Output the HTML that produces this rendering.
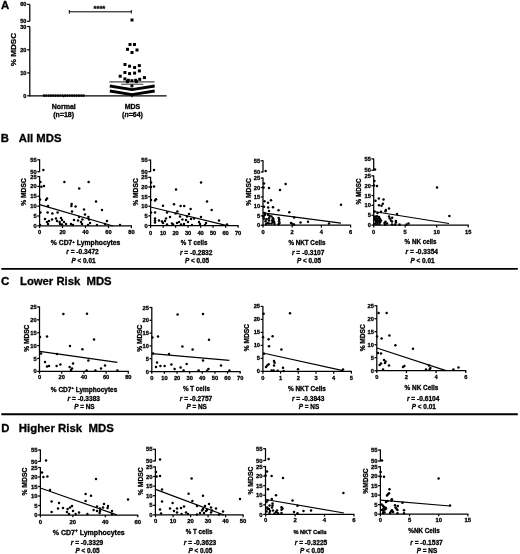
<!DOCTYPE html><html><head><meta charset="utf-8"><title>figure</title><style>html,body{margin:0;padding:0;background:#fff}svg{display:block;will-change:transform}text{stroke:#000;stroke-width:0.3px;stroke-linejoin:round}</style></head><body>
<svg width="520" height="554" viewBox="0 0 520 554" font-family="Liberation Sans, sans-serif" fill="#000">
<rect width="520" height="554" fill="#fff"/>
<text x="1.00" y="9.30" font-size="11.4" text-anchor="start" font-weight="bold" >A</text>
<line x1="29.80" y1="4.40" x2="29.80" y2="21.30" stroke="#000" stroke-width="1.25" />
<line x1="29.80" y1="26.60" x2="29.80" y2="96.30" stroke="#000" stroke-width="1.25" />
<line x1="29.30" y1="95.80" x2="166.60" y2="95.80" stroke="#000" stroke-width="1.25" />
<line x1="27.20" y1="4.40" x2="29.80" y2="4.40" stroke="#000" stroke-width="1.25" />
<text x="26.40" y="6.40" font-size="5.6" text-anchor="end" font-weight="bold" >60</text>
<line x1="27.20" y1="21.30" x2="29.80" y2="21.30" stroke="#000" stroke-width="1.25" />
<text x="26.40" y="23.30" font-size="5.6" text-anchor="end" font-weight="bold" >50</text>
<line x1="27.20" y1="26.50" x2="29.80" y2="26.50" stroke="#000" stroke-width="1.25" />
<text x="26.40" y="28.50" font-size="5.6" text-anchor="end" font-weight="bold" >30</text>
<line x1="27.20" y1="49.80" x2="29.80" y2="49.80" stroke="#000" stroke-width="1.25" />
<text x="26.40" y="51.80" font-size="5.6" text-anchor="end" font-weight="bold" >20</text>
<line x1="27.20" y1="72.90" x2="29.80" y2="72.90" stroke="#000" stroke-width="1.25" />
<text x="26.40" y="74.90" font-size="5.6" text-anchor="end" font-weight="bold" >10</text>
<line x1="27.20" y1="95.80" x2="29.80" y2="95.80" stroke="#000" stroke-width="1.25" />
<text x="26.40" y="97.80" font-size="5.6" text-anchor="end" font-weight="bold" >0</text>
<line x1="63.50" y1="95.80" x2="63.50" y2="97.30" stroke="#000" stroke-width="1.25" />
<line x1="131.90" y1="95.80" x2="131.90" y2="97.30" stroke="#000" stroke-width="1.25" />
<text transform="translate(16.1,49.6) rotate(-90)" font-size="8.1" text-anchor="middle" font-weight="bold">% MDSC</text>
<text x="63.70" y="109.20" font-size="7" text-anchor="middle" font-weight="bold" >Normal</text>
<text x="63.70" y="117.20" font-size="7" text-anchor="middle" font-weight="bold" >(n=18)</text>
<text x="132.50" y="109.20" font-size="7" text-anchor="middle" font-weight="bold" >MDS</text>
<text x="132.50" y="117.20" font-size="7" text-anchor="middle" font-weight="bold" >(<tspan font-style="italic">n</tspan>=64)</text>
<line x1="69.30" y1="11.80" x2="131.30" y2="11.80" stroke="#000" stroke-width="1.0" />
<line x1="69.30" y1="10.00" x2="69.30" y2="13.70" stroke="#000" stroke-width="1.0" />
<line x1="131.30" y1="10.00" x2="131.30" y2="13.50" stroke="#000" stroke-width="1.0" />
<text x="99.40" y="10.60" font-size="7.6" text-anchor="middle" font-weight="bold" >****</text>
<circle cx="44.0" cy="95.6" r="1.3"/>
<circle cx="46.3" cy="95.6" r="1.3"/>
<circle cx="48.7" cy="95.6" r="1.3"/>
<circle cx="51.0" cy="95.6" r="1.3"/>
<circle cx="53.3" cy="95.6" r="1.3"/>
<circle cx="55.6" cy="95.6" r="1.3"/>
<circle cx="58.0" cy="95.6" r="1.3"/>
<circle cx="60.3" cy="95.6" r="1.3"/>
<circle cx="62.6" cy="95.6" r="1.3"/>
<circle cx="65.0" cy="95.6" r="1.3"/>
<circle cx="67.3" cy="95.6" r="1.3"/>
<circle cx="69.6" cy="95.6" r="1.3"/>
<circle cx="72.0" cy="95.6" r="1.3"/>
<circle cx="74.3" cy="95.6" r="1.3"/>
<circle cx="76.6" cy="95.6" r="1.3"/>
<circle cx="79.0" cy="95.6" r="1.3"/>
<circle cx="81.3" cy="95.6" r="1.3"/>
<circle cx="83.6" cy="95.6" r="1.3"/>
<rect x="130.5" y="18.5" width="3.0" height="3.0"/>
<rect x="128.5" y="43.0" width="3.0" height="3.0"/>
<rect x="133.0" y="43.0" width="3.0" height="3.0"/>
<rect x="126.0" y="47.8" width="3.0" height="3.0"/>
<rect x="135.5" y="48.5" width="3.0" height="3.0"/>
<rect x="130.5" y="51.0" width="3.0" height="3.0"/>
<rect x="123.5" y="63.0" width="3.0" height="3.0"/>
<rect x="128.1" y="64.7" width="3.0" height="3.0"/>
<rect x="133.1" y="66.0" width="3.0" height="3.0"/>
<rect x="137.8" y="64.1" width="3.0" height="3.0"/>
<rect x="123.4" y="71.0" width="3.0" height="3.0"/>
<rect x="128.1" y="72.1" width="3.0" height="3.0"/>
<rect x="133.1" y="71.6" width="3.0" height="3.0"/>
<rect x="137.9" y="69.4" width="3.0" height="3.0"/>
<rect x="118.7" y="74.7" width="3.0" height="3.0"/>
<rect x="142.9" y="76.1" width="3.0" height="3.0"/>
<rect x="123.4" y="77.4" width="3.0" height="3.0"/>
<rect x="126.8" y="78.8" width="3.0" height="3.0"/>
<rect x="130.4" y="79.2" width="3.0" height="3.0"/>
<rect x="134.2" y="78.8" width="3.0" height="3.0"/>
<rect x="138.2" y="77.8" width="3.0" height="3.0"/>
<rect x="130.4" y="84.4" width="3.0" height="3.0"/>
<rect x="125.9" y="80.1" width="3.0" height="3.0"/>
<rect x="134.9" y="80.1" width="3.0" height="3.0"/>
<line x1="109.40" y1="81.90" x2="154.60" y2="81.90" stroke="#000" stroke-width="0.9" />
<line x1="121.20" y1="84.20" x2="143.30" y2="84.20" stroke="#000" stroke-width="0.8" />
<polyline points="109.8,86.0 132,89.7 154.7,86.0" fill="none" stroke="#000" stroke-width="2.8"/>
<polyline points="109.8,91.0 132,94.6 154.7,91.0" fill="none" stroke="#000" stroke-width="2.8"/>
<text x="0.80" y="142.20" font-size="11.3" text-anchor="start" font-weight="bold" >B</text>
<text x="18.80" y="142.20" font-size="11.3" text-anchor="start" font-weight="bold" >All MDS</text>
<text x="1.00" y="285.10" font-size="11.6" text-anchor="start" font-weight="bold" >C</text>
<text x="20.00" y="285.20" font-size="11.3" text-anchor="start" font-weight="bold" xml:space="preserve">Lower Risk&#160; MDS</text>
<text x="1.20" y="431.60" font-size="11.3" text-anchor="start" font-weight="bold" >D</text>
<text x="18.80" y="431.60" font-size="11.4" text-anchor="start" font-weight="bold" xml:space="preserve">Higher Risk&#160; MDS</text>
<line x1="1.30" y1="268.90" x2="517.80" y2="268.90" stroke="#000" stroke-width="1.9" />
<line x1="1.30" y1="414.20" x2="517.80" y2="414.20" stroke="#000" stroke-width="1.9" />
<line x1="39.60" y1="159.30" x2="39.60" y2="172.20" stroke="#000" stroke-width="1.25" />
<line x1="39.60" y1="176.10" x2="39.60" y2="226.30" stroke="#000" stroke-width="1.25" />
<line x1="37.30" y1="159.80" x2="39.60" y2="159.80" stroke="#000" stroke-width="1.25" />
<text x="36.70" y="161.85" font-size="5.7" text-anchor="end" font-weight="bold" >55</text>
<line x1="37.30" y1="171.70" x2="39.60" y2="171.70" stroke="#000" stroke-width="1.25" />
<text x="36.70" y="173.75" font-size="5.7" text-anchor="end" font-weight="bold" >50</text>
<line x1="37.30" y1="176.55" x2="39.60" y2="176.55" stroke="#000" stroke-width="1.25" />
<text x="36.70" y="178.60" font-size="5.7" text-anchor="end" font-weight="bold" >25</text>
<line x1="37.30" y1="186.40" x2="39.60" y2="186.40" stroke="#000" stroke-width="1.25" />
<text x="36.70" y="188.45" font-size="5.7" text-anchor="end" font-weight="bold" >20</text>
<line x1="37.30" y1="196.25" x2="39.60" y2="196.25" stroke="#000" stroke-width="1.25" />
<text x="36.70" y="198.30" font-size="5.7" text-anchor="end" font-weight="bold" >15</text>
<line x1="37.30" y1="206.10" x2="39.60" y2="206.10" stroke="#000" stroke-width="1.25" />
<text x="36.70" y="208.15" font-size="5.7" text-anchor="end" font-weight="bold" >10</text>
<line x1="37.30" y1="215.95" x2="39.60" y2="215.95" stroke="#000" stroke-width="1.25" />
<text x="36.70" y="218.00" font-size="5.7" text-anchor="end" font-weight="bold" >5</text>
<line x1="37.30" y1="225.80" x2="39.60" y2="225.80" stroke="#000" stroke-width="1.25" />
<text x="36.70" y="227.85" font-size="5.7" text-anchor="end" font-weight="bold" >0</text>
<line x1="39.10" y1="225.80" x2="131.90" y2="225.80" stroke="#000" stroke-width="1.25" />
<line x1="39.60" y1="225.80" x2="39.60" y2="228.10" stroke="#000" stroke-width="1.25" />
<text x="39.60" y="234.20" font-size="5.7" text-anchor="middle" font-weight="bold" >0</text>
<line x1="62.55" y1="225.80" x2="62.55" y2="228.10" stroke="#000" stroke-width="1.25" />
<text x="62.55" y="234.20" font-size="5.7" text-anchor="middle" font-weight="bold" >20</text>
<line x1="85.50" y1="225.80" x2="85.50" y2="228.10" stroke="#000" stroke-width="1.25" />
<text x="85.50" y="234.20" font-size="5.7" text-anchor="middle" font-weight="bold" >40</text>
<line x1="108.45" y1="225.80" x2="108.45" y2="228.10" stroke="#000" stroke-width="1.25" />
<text x="108.45" y="234.20" font-size="5.7" text-anchor="middle" font-weight="bold" >60</text>
<line x1="131.40" y1="225.80" x2="131.40" y2="228.10" stroke="#000" stroke-width="1.25" />
<text x="131.40" y="234.20" font-size="5.7" text-anchor="middle" font-weight="bold" >80</text>
<text transform="translate(26.4,192) rotate(-90)" font-size="6.7" text-anchor="middle" font-weight="bold">% MDSC</text>
<text x="85.60" y="245.30" font-size="6.4" text-anchor="middle" font-weight="bold" textLength="69.5" lengthAdjust="spacingAndGlyphs">% CD7<tspan font-size="4.2" dy="-2.8">+</tspan><tspan dy="2.8"> Lymphocytes</tspan></text>
<text x="82.50" y="254.10" font-size="6.6" text-anchor="middle" font-weight="bold" ><tspan font-style="italic">r</tspan> = -0.3472</text>
<text x="83.50" y="263.00" font-size="6.4" text-anchor="middle" font-weight="bold" ><tspan font-style="italic">P</tspan> &lt; 0.01</text>
<line x1="39.60" y1="204.60" x2="113.00" y2="226.00" stroke="#000" stroke-width="1.2" />
<circle cx="43.4" cy="170.0" r="1.25"/>
<circle cx="40.4" cy="182.0" r="1.25"/>
<circle cx="64.4" cy="182.0" r="1.25"/>
<circle cx="88.6" cy="182.0" r="1.25"/>
<circle cx="44.0" cy="186.0" r="1.25"/>
<circle cx="41.4" cy="186.8" r="1.25"/>
<circle cx="79.2" cy="188.6" r="1.25"/>
<circle cx="47.0" cy="198.6" r="1.25"/>
<circle cx="46.0" cy="200.0" r="1.25"/>
<circle cx="40.0" cy="199.5" r="1.25"/>
<circle cx="96.0" cy="201.5" r="1.25"/>
<circle cx="71.6" cy="204.0" r="1.25"/>
<circle cx="71.4" cy="206.0" r="1.25"/>
<circle cx="75.6" cy="206.6" r="1.25"/>
<circle cx="48.0" cy="206.0" r="1.25"/>
<circle cx="84.0" cy="209.4" r="1.25"/>
<circle cx="102.0" cy="210.0" r="1.25"/>
<circle cx="72.0" cy="211.4" r="1.25"/>
<circle cx="40.4" cy="212.4" r="1.25"/>
<circle cx="47.6" cy="212.4" r="1.25"/>
<circle cx="52.4" cy="213.4" r="1.25"/>
<circle cx="57.6" cy="212.6" r="1.25"/>
<circle cx="85.0" cy="214.4" r="1.25"/>
<circle cx="88.4" cy="217.0" r="1.25"/>
<circle cx="79.0" cy="217.0" r="1.25"/>
<circle cx="45.0" cy="219.0" r="1.25"/>
<circle cx="52.0" cy="219.4" r="1.25"/>
<circle cx="56.0" cy="218.6" r="1.25"/>
<circle cx="61.0" cy="218.0" r="1.25"/>
<circle cx="62.0" cy="220.0" r="1.25"/>
<circle cx="74.0" cy="220.0" r="1.25"/>
<circle cx="78.0" cy="220.6" r="1.25"/>
<circle cx="82.4" cy="219.4" r="1.25"/>
<circle cx="89.0" cy="219.4" r="1.25"/>
<circle cx="47.0" cy="222.0" r="1.25"/>
<circle cx="49.0" cy="221.0" r="1.25"/>
<circle cx="57.0" cy="221.0" r="1.25"/>
<circle cx="59.6" cy="222.0" r="1.25"/>
<circle cx="64.0" cy="222.0" r="1.25"/>
<circle cx="81.0" cy="222.0" r="1.25"/>
<circle cx="90.0" cy="223.0" r="1.25"/>
<circle cx="107.0" cy="221.0" r="1.25"/>
<circle cx="48.0" cy="224.0" r="1.25"/>
<circle cx="60.0" cy="224.0" r="1.25"/>
<circle cx="62.0" cy="224.6" r="1.25"/>
<circle cx="66.0" cy="224.0" r="1.25"/>
<circle cx="71.0" cy="224.0" r="1.25"/>
<circle cx="73.0" cy="225.0" r="1.25"/>
<circle cx="82.0" cy="224.0" r="1.25"/>
<circle cx="88.0" cy="225.0" r="1.25"/>
<circle cx="97.0" cy="225.0" r="1.25"/>
<circle cx="105.0" cy="224.0" r="1.25"/>
<circle cx="120.0" cy="225.0" r="1.25"/>
<circle cx="40.0" cy="225.0" r="1.25"/>
<line x1="150.60" y1="159.60" x2="150.60" y2="172.10" stroke="#000" stroke-width="1.25" />
<line x1="150.60" y1="176.80" x2="150.60" y2="226.00" stroke="#000" stroke-width="1.25" />
<line x1="148.30" y1="160.10" x2="150.60" y2="160.10" stroke="#000" stroke-width="1.25" />
<text x="147.70" y="162.15" font-size="5.7" text-anchor="end" font-weight="bold" >55</text>
<line x1="148.30" y1="171.60" x2="150.60" y2="171.60" stroke="#000" stroke-width="1.25" />
<text x="147.70" y="173.65" font-size="5.7" text-anchor="end" font-weight="bold" >50</text>
<line x1="148.30" y1="177.38" x2="150.60" y2="177.38" stroke="#000" stroke-width="1.25" />
<text x="147.70" y="179.43" font-size="5.7" text-anchor="end" font-weight="bold" >25</text>
<line x1="148.30" y1="187.00" x2="150.60" y2="187.00" stroke="#000" stroke-width="1.25" />
<text x="147.70" y="189.05" font-size="5.7" text-anchor="end" font-weight="bold" >20</text>
<line x1="148.30" y1="196.62" x2="150.60" y2="196.62" stroke="#000" stroke-width="1.25" />
<text x="147.70" y="198.68" font-size="5.7" text-anchor="end" font-weight="bold" >15</text>
<line x1="148.30" y1="206.25" x2="150.60" y2="206.25" stroke="#000" stroke-width="1.25" />
<text x="147.70" y="208.30" font-size="5.7" text-anchor="end" font-weight="bold" >10</text>
<line x1="148.30" y1="215.88" x2="150.60" y2="215.88" stroke="#000" stroke-width="1.25" />
<text x="147.70" y="217.93" font-size="5.7" text-anchor="end" font-weight="bold" >5</text>
<line x1="148.30" y1="225.50" x2="150.60" y2="225.50" stroke="#000" stroke-width="1.25" />
<text x="147.70" y="227.55" font-size="5.7" text-anchor="end" font-weight="bold" >0</text>
<line x1="150.10" y1="225.50" x2="238.60" y2="225.50" stroke="#000" stroke-width="1.25" />
<line x1="150.60" y1="225.50" x2="150.60" y2="227.80" stroke="#000" stroke-width="1.25" />
<text x="150.60" y="234.50" font-size="5.7" text-anchor="middle" font-weight="bold" >0</text>
<line x1="163.10" y1="225.50" x2="163.10" y2="227.80" stroke="#000" stroke-width="1.25" />
<text x="163.10" y="234.50" font-size="5.7" text-anchor="middle" font-weight="bold" >10</text>
<line x1="175.60" y1="225.50" x2="175.60" y2="227.80" stroke="#000" stroke-width="1.25" />
<text x="175.60" y="234.50" font-size="5.7" text-anchor="middle" font-weight="bold" >20</text>
<line x1="188.10" y1="225.50" x2="188.10" y2="227.80" stroke="#000" stroke-width="1.25" />
<text x="188.10" y="234.50" font-size="5.7" text-anchor="middle" font-weight="bold" >30</text>
<line x1="200.60" y1="225.50" x2="200.60" y2="227.80" stroke="#000" stroke-width="1.25" />
<text x="200.60" y="234.50" font-size="5.7" text-anchor="middle" font-weight="bold" >40</text>
<line x1="213.10" y1="225.50" x2="213.10" y2="227.80" stroke="#000" stroke-width="1.25" />
<text x="213.10" y="234.50" font-size="5.7" text-anchor="middle" font-weight="bold" >50</text>
<line x1="225.60" y1="225.50" x2="225.60" y2="227.80" stroke="#000" stroke-width="1.25" />
<text x="225.60" y="234.50" font-size="5.7" text-anchor="middle" font-weight="bold" >60</text>
<line x1="238.10" y1="225.50" x2="238.10" y2="227.80" stroke="#000" stroke-width="1.25" />
<text x="238.10" y="234.50" font-size="5.7" text-anchor="middle" font-weight="bold" >70</text>
<text transform="translate(138.4,192) rotate(-90)" font-size="6.7" text-anchor="middle" font-weight="bold">% MDSC</text>
<text x="194.10" y="244.50" font-size="6.3" text-anchor="middle" font-weight="bold" textLength="26.5" lengthAdjust="spacingAndGlyphs">% T cells</text>
<text x="196.20" y="255.30" font-size="6.6" text-anchor="middle" font-weight="bold" ><tspan font-style="italic">r</tspan> = -0.2832</text>
<text x="197.00" y="262.70" font-size="6.4" text-anchor="middle" font-weight="bold" ><tspan font-style="italic">P</tspan> &lt; 0.05</text>
<line x1="150.60" y1="207.00" x2="226.00" y2="225.40" stroke="#000" stroke-width="1.2" />
<circle cx="154.0" cy="170.0" r="1.25"/>
<circle cx="151.0" cy="182.6" r="1.25"/>
<circle cx="154.0" cy="186.6" r="1.25"/>
<circle cx="151.0" cy="187.0" r="1.25"/>
<circle cx="201.0" cy="182.6" r="1.25"/>
<circle cx="176.0" cy="189.4" r="1.25"/>
<circle cx="156.0" cy="199.2" r="1.25"/>
<circle cx="155.0" cy="200.5" r="1.25"/>
<circle cx="151.0" cy="200.0" r="1.25"/>
<circle cx="207.0" cy="201.6" r="1.25"/>
<circle cx="174.0" cy="204.2" r="1.25"/>
<circle cx="163.0" cy="205.7" r="1.25"/>
<circle cx="180.6" cy="206.0" r="1.25"/>
<circle cx="184.2" cy="206.0" r="1.25"/>
<circle cx="190.6" cy="209.0" r="1.25"/>
<circle cx="211.6" cy="210.0" r="1.25"/>
<circle cx="177.4" cy="211.4" r="1.25"/>
<circle cx="151.0" cy="212.4" r="1.25"/>
<circle cx="155.0" cy="212.4" r="1.25"/>
<circle cx="167.0" cy="212.6" r="1.25"/>
<circle cx="175.6" cy="213.4" r="1.25"/>
<circle cx="189.0" cy="214.0" r="1.25"/>
<circle cx="180.0" cy="216.6" r="1.25"/>
<circle cx="170.0" cy="217.0" r="1.25"/>
<circle cx="201.0" cy="217.0" r="1.25"/>
<circle cx="187.0" cy="216.6" r="1.25"/>
<circle cx="155.0" cy="218.6" r="1.25"/>
<circle cx="166.0" cy="218.6" r="1.25"/>
<circle cx="194.0" cy="218.6" r="1.25"/>
<circle cx="191.0" cy="219.0" r="1.25"/>
<circle cx="182.4" cy="219.4" r="1.25"/>
<circle cx="186.0" cy="220.0" r="1.25"/>
<circle cx="155.0" cy="220.6" r="1.25"/>
<circle cx="159.0" cy="220.6" r="1.25"/>
<circle cx="162.0" cy="221.4" r="1.25"/>
<circle cx="165.0" cy="221.0" r="1.25"/>
<circle cx="219.0" cy="220.6" r="1.25"/>
<circle cx="179.0" cy="222.0" r="1.25"/>
<circle cx="188.0" cy="222.0" r="1.25"/>
<circle cx="199.0" cy="222.0" r="1.25"/>
<circle cx="155.0" cy="222.6" r="1.25"/>
<circle cx="163.0" cy="223.0" r="1.25"/>
<circle cx="172.0" cy="223.4" r="1.25"/>
<circle cx="177.0" cy="223.0" r="1.25"/>
<circle cx="206.0" cy="223.0" r="1.25"/>
<circle cx="184.0" cy="224.0" r="1.25"/>
<circle cx="200.0" cy="224.0" r="1.25"/>
<circle cx="167.0" cy="224.6" r="1.25"/>
<circle cx="173.0" cy="224.6" r="1.25"/>
<circle cx="181.0" cy="224.6" r="1.25"/>
<circle cx="192.0" cy="225.0" r="1.25"/>
<circle cx="227.0" cy="224.6" r="1.25"/>
<circle cx="205.0" cy="225.0" r="1.25"/>
<line x1="263.00" y1="160.20" x2="263.00" y2="172.50" stroke="#000" stroke-width="1.25" />
<line x1="263.00" y1="177.50" x2="263.00" y2="225.70" stroke="#000" stroke-width="1.25" />
<line x1="260.70" y1="160.70" x2="263.00" y2="160.70" stroke="#000" stroke-width="1.25" />
<text x="260.10" y="162.75" font-size="5.7" text-anchor="end" font-weight="bold" >55</text>
<line x1="260.70" y1="172.00" x2="263.00" y2="172.00" stroke="#000" stroke-width="1.25" />
<text x="260.10" y="174.05" font-size="5.7" text-anchor="end" font-weight="bold" >50</text>
<line x1="260.70" y1="178.05" x2="263.00" y2="178.05" stroke="#000" stroke-width="1.25" />
<text x="260.10" y="180.10" font-size="5.7" text-anchor="end" font-weight="bold" >25</text>
<line x1="260.70" y1="187.50" x2="263.00" y2="187.50" stroke="#000" stroke-width="1.25" />
<text x="260.10" y="189.55" font-size="5.7" text-anchor="end" font-weight="bold" >20</text>
<line x1="260.70" y1="196.95" x2="263.00" y2="196.95" stroke="#000" stroke-width="1.25" />
<text x="260.10" y="199.00" font-size="5.7" text-anchor="end" font-weight="bold" >15</text>
<line x1="260.70" y1="206.40" x2="263.00" y2="206.40" stroke="#000" stroke-width="1.25" />
<text x="260.10" y="208.45" font-size="5.7" text-anchor="end" font-weight="bold" >10</text>
<line x1="260.70" y1="215.85" x2="263.00" y2="215.85" stroke="#000" stroke-width="1.25" />
<text x="260.10" y="217.90" font-size="5.7" text-anchor="end" font-weight="bold" >5</text>
<line x1="260.70" y1="225.30" x2="263.00" y2="225.30" stroke="#000" stroke-width="1.25" />
<text x="260.10" y="227.35" font-size="5.7" text-anchor="end" font-weight="bold" >0</text>
<line x1="262.50" y1="225.20" x2="351.10" y2="225.20" stroke="#000" stroke-width="1.25" />
<line x1="263.00" y1="225.20" x2="263.00" y2="227.50" stroke="#000" stroke-width="1.25" />
<text x="263.00" y="233.80" font-size="5.7" text-anchor="middle" font-weight="bold" >0</text>
<line x1="292.20" y1="225.20" x2="292.20" y2="227.50" stroke="#000" stroke-width="1.25" />
<text x="292.20" y="233.80" font-size="5.7" text-anchor="middle" font-weight="bold" >2</text>
<line x1="321.40" y1="225.20" x2="321.40" y2="227.50" stroke="#000" stroke-width="1.25" />
<text x="321.40" y="233.80" font-size="5.7" text-anchor="middle" font-weight="bold" >4</text>
<line x1="350.60" y1="225.20" x2="350.60" y2="227.50" stroke="#000" stroke-width="1.25" />
<text x="350.60" y="233.80" font-size="5.7" text-anchor="middle" font-weight="bold" >6</text>
<text transform="translate(251,192) rotate(-90)" font-size="6.7" text-anchor="middle" font-weight="bold">% MDSC</text>
<text x="306.90" y="244.50" font-size="6.3" text-anchor="middle" font-weight="bold" textLength="37" lengthAdjust="spacingAndGlyphs">% NKT Cells</text>
<text x="308.20" y="255.30" font-size="6.6" text-anchor="middle" font-weight="bold" ><tspan font-style="italic">r</tspan> = -0.3107</text>
<text x="309.00" y="262.70" font-size="6.4" text-anchor="middle" font-weight="bold" ><tspan font-style="italic">P</tspan> &lt; 0.05</text>
<line x1="263.00" y1="212.90" x2="341.00" y2="223.10" stroke="#000" stroke-width="1.2" />
<circle cx="265.6" cy="171.1" r="1.25"/>
<circle cx="264.0" cy="183.5" r="1.25"/>
<circle cx="285.6" cy="183.9" r="1.25"/>
<circle cx="263.6" cy="187.5" r="1.25"/>
<circle cx="269.0" cy="188.1" r="1.25"/>
<circle cx="280.0" cy="190.1" r="1.25"/>
<circle cx="271.0" cy="200.3" r="1.25"/>
<circle cx="264.5" cy="201.3" r="1.25"/>
<circle cx="268.0" cy="202.7" r="1.25"/>
<circle cx="341.0" cy="204.8" r="1.25"/>
<circle cx="273.0" cy="207.3" r="1.25"/>
<circle cx="268.2" cy="207.5" r="1.25"/>
<circle cx="264.0" cy="206.8" r="1.25"/>
<circle cx="278.5" cy="210.2" r="1.25"/>
<circle cx="269.0" cy="211.0" r="1.25"/>
<circle cx="289.3" cy="212.2" r="1.25"/>
<circle cx="264.5" cy="213.0" r="1.25"/>
<circle cx="265.0" cy="214.8" r="1.25"/>
<circle cx="268.0" cy="214.8" r="1.25"/>
<circle cx="269.6" cy="216.0" r="1.25"/>
<circle cx="269.0" cy="218.2" r="1.25"/>
<circle cx="266.5" cy="219.2" r="1.25"/>
<circle cx="264.0" cy="218.5" r="1.25"/>
<circle cx="263.5" cy="216.3" r="1.25"/>
<circle cx="271.5" cy="216.5" r="1.25"/>
<circle cx="273.0" cy="218.2" r="1.25"/>
<circle cx="273.5" cy="220.0" r="1.25"/>
<circle cx="278.7" cy="218.0" r="1.25"/>
<circle cx="279.2" cy="219.5" r="1.25"/>
<circle cx="279.0" cy="221.2" r="1.25"/>
<circle cx="279.5" cy="223.0" r="1.25"/>
<circle cx="278.5" cy="224.2" r="1.25"/>
<circle cx="265.5" cy="221.2" r="1.25"/>
<circle cx="267.5" cy="223.0" r="1.25"/>
<circle cx="266.0" cy="224.0" r="1.25"/>
<circle cx="269.0" cy="220.5" r="1.25"/>
<circle cx="272.0" cy="220.5" r="1.25"/>
<circle cx="273.0" cy="222.0" r="1.25"/>
<circle cx="271.5" cy="223.5" r="1.25"/>
<circle cx="269.0" cy="223.5" r="1.25"/>
<circle cx="274.2" cy="222.0" r="1.25"/>
<circle cx="274.5" cy="224.0" r="1.25"/>
<circle cx="291.0" cy="223.0" r="1.25"/>
<circle cx="292.5" cy="224.0" r="1.25"/>
<circle cx="294.0" cy="224.5" r="1.25"/>
<circle cx="294.2" cy="217.5" r="1.25"/>
<circle cx="300.5" cy="222.5" r="1.25"/>
<circle cx="308.0" cy="221.8" r="1.25"/>
<circle cx="329.0" cy="223.6" r="1.25"/>
<line x1="373.70" y1="158.40" x2="373.70" y2="170.80" stroke="#000" stroke-width="1.25" />
<line x1="373.70" y1="175.40" x2="373.70" y2="225.60" stroke="#000" stroke-width="1.25" />
<line x1="371.40" y1="158.90" x2="373.70" y2="158.90" stroke="#000" stroke-width="1.25" />
<text x="370.80" y="160.95" font-size="5.7" text-anchor="end" font-weight="bold" >55</text>
<line x1="371.40" y1="170.30" x2="373.70" y2="170.30" stroke="#000" stroke-width="1.25" />
<text x="370.80" y="172.35" font-size="5.7" text-anchor="end" font-weight="bold" >50</text>
<line x1="371.40" y1="175.85" x2="373.70" y2="175.85" stroke="#000" stroke-width="1.25" />
<text x="370.80" y="177.90" font-size="5.7" text-anchor="end" font-weight="bold" >25</text>
<line x1="371.40" y1="185.70" x2="373.70" y2="185.70" stroke="#000" stroke-width="1.25" />
<text x="370.80" y="187.75" font-size="5.7" text-anchor="end" font-weight="bold" >20</text>
<line x1="371.40" y1="195.55" x2="373.70" y2="195.55" stroke="#000" stroke-width="1.25" />
<text x="370.80" y="197.60" font-size="5.7" text-anchor="end" font-weight="bold" >15</text>
<line x1="371.40" y1="205.40" x2="373.70" y2="205.40" stroke="#000" stroke-width="1.25" />
<text x="370.80" y="207.45" font-size="5.7" text-anchor="end" font-weight="bold" >10</text>
<line x1="371.40" y1="215.25" x2="373.70" y2="215.25" stroke="#000" stroke-width="1.25" />
<text x="370.80" y="217.30" font-size="5.7" text-anchor="end" font-weight="bold" >5</text>
<line x1="371.40" y1="225.10" x2="373.70" y2="225.10" stroke="#000" stroke-width="1.25" />
<text x="370.80" y="227.15" font-size="5.7" text-anchor="end" font-weight="bold" >0</text>
<line x1="373.20" y1="225.10" x2="468.70" y2="225.10" stroke="#000" stroke-width="1.25" />
<line x1="373.70" y1="225.10" x2="373.70" y2="227.40" stroke="#000" stroke-width="1.25" />
<text x="373.70" y="233.80" font-size="5.7" text-anchor="middle" font-weight="bold" >0</text>
<line x1="405.20" y1="225.10" x2="405.20" y2="227.40" stroke="#000" stroke-width="1.25" />
<text x="405.20" y="233.80" font-size="5.7" text-anchor="middle" font-weight="bold" >5</text>
<line x1="436.70" y1="225.10" x2="436.70" y2="227.40" stroke="#000" stroke-width="1.25" />
<text x="436.70" y="233.80" font-size="5.7" text-anchor="middle" font-weight="bold" >10</text>
<line x1="468.20" y1="225.10" x2="468.20" y2="227.40" stroke="#000" stroke-width="1.25" />
<text x="468.20" y="233.80" font-size="5.7" text-anchor="middle" font-weight="bold" >15</text>
<text transform="translate(360.9,191.5) rotate(-90)" font-size="6.3" text-anchor="middle" font-weight="bold">% MDSC</text>
<text x="420.60" y="243.50" font-size="6.3" text-anchor="middle" font-weight="bold" textLength="32" lengthAdjust="spacingAndGlyphs">% NK cells</text>
<text x="421.80" y="254.10" font-size="6.6" text-anchor="middle" font-weight="bold" ><tspan font-style="italic">r</tspan> = -0.3354</text>
<text x="422.50" y="263.40" font-size="6.4" text-anchor="middle" font-weight="bold" ><tspan font-style="italic">P</tspan> &lt; 0.01</text>
<line x1="373.70" y1="211.50" x2="449.00" y2="223.50" stroke="#000" stroke-width="1.2" />
<circle cx="375.0" cy="169.4" r="1.25"/>
<circle cx="374.4" cy="181.0" r="1.25"/>
<circle cx="377.0" cy="186.0" r="1.25"/>
<circle cx="374.0" cy="185.6" r="1.25"/>
<circle cx="437.0" cy="187.6" r="1.25"/>
<circle cx="378.8" cy="198.5" r="1.25"/>
<circle cx="383.5" cy="199.5" r="1.25"/>
<circle cx="375.5" cy="200.8" r="1.25"/>
<circle cx="382.8" cy="203.8" r="1.25"/>
<circle cx="379.0" cy="205.3" r="1.25"/>
<circle cx="381.5" cy="205.8" r="1.25"/>
<circle cx="389.0" cy="208.5" r="1.25"/>
<circle cx="385.8" cy="210.0" r="1.25"/>
<circle cx="385.5" cy="211.2" r="1.25"/>
<circle cx="381.0" cy="211.8" r="1.25"/>
<circle cx="377.5" cy="213.0" r="1.25"/>
<circle cx="374.5" cy="211.5" r="1.25"/>
<circle cx="397.0" cy="214.0" r="1.25"/>
<circle cx="449.4" cy="216.0" r="1.25"/>
<circle cx="389.0" cy="216.5" r="1.25"/>
<circle cx="389.8" cy="218.5" r="1.25"/>
<circle cx="392.2" cy="217.8" r="1.25"/>
<circle cx="391.0" cy="220.5" r="1.25"/>
<circle cx="392.0" cy="221.5" r="1.25"/>
<circle cx="395.8" cy="221.0" r="1.25"/>
<circle cx="396.0" cy="222.5" r="1.25"/>
<circle cx="385.5" cy="221.8" r="1.25"/>
<circle cx="384.5" cy="223.0" r="1.25"/>
<circle cx="387.0" cy="223.5" r="1.25"/>
<circle cx="385.0" cy="224.5" r="1.25"/>
<circle cx="392.0" cy="224.5" r="1.25"/>
<circle cx="395.0" cy="224.5" r="1.25"/>
<circle cx="399.5" cy="224.5" r="1.25"/>
<circle cx="408.5" cy="223.5" r="1.25"/>
<circle cx="406.5" cy="224.6" r="1.25"/>
<circle cx="375.0" cy="216.5" r="1.25"/>
<circle cx="377.0" cy="216.2" r="1.25"/>
<circle cx="379.0" cy="217.0" r="1.25"/>
<circle cx="376.0" cy="218.2" r="1.25"/>
<circle cx="378.0" cy="218.5" r="1.25"/>
<circle cx="380.0" cy="218.8" r="1.25"/>
<circle cx="375.0" cy="220.0" r="1.25"/>
<circle cx="377.0" cy="220.2" r="1.25"/>
<circle cx="379.2" cy="220.5" r="1.25"/>
<circle cx="376.0" cy="222.0" r="1.25"/>
<circle cx="378.0" cy="222.2" r="1.25"/>
<circle cx="380.2" cy="222.0" r="1.25"/>
<circle cx="375.0" cy="223.8" r="1.25"/>
<circle cx="377.2" cy="224.0" r="1.25"/>
<circle cx="379.5" cy="224.0" r="1.25"/>
<circle cx="381.0" cy="220.5" r="1.25"/>
<circle cx="374.5" cy="218.5" r="1.25"/>
<line x1="39.50" y1="306.40" x2="39.50" y2="371.90" stroke="#000" stroke-width="1.25" />
<line x1="37.20" y1="306.90" x2="39.50" y2="306.90" stroke="#000" stroke-width="1.25" />
<text x="36.60" y="308.95" font-size="5.7" text-anchor="end" font-weight="bold" >25</text>
<line x1="37.20" y1="319.80" x2="39.50" y2="319.80" stroke="#000" stroke-width="1.25" />
<text x="36.60" y="321.85" font-size="5.7" text-anchor="end" font-weight="bold" >20</text>
<line x1="37.20" y1="332.70" x2="39.50" y2="332.70" stroke="#000" stroke-width="1.25" />
<text x="36.60" y="334.75" font-size="5.7" text-anchor="end" font-weight="bold" >15</text>
<line x1="37.20" y1="345.60" x2="39.50" y2="345.60" stroke="#000" stroke-width="1.25" />
<text x="36.60" y="347.65" font-size="5.7" text-anchor="end" font-weight="bold" >10</text>
<line x1="37.20" y1="358.50" x2="39.50" y2="358.50" stroke="#000" stroke-width="1.25" />
<text x="36.60" y="360.55" font-size="5.7" text-anchor="end" font-weight="bold" >5</text>
<line x1="37.20" y1="371.40" x2="39.50" y2="371.40" stroke="#000" stroke-width="1.25" />
<text x="36.60" y="373.45" font-size="5.7" text-anchor="end" font-weight="bold" >0</text>
<line x1="39.00" y1="371.40" x2="128.80" y2="371.40" stroke="#000" stroke-width="1.25" />
<line x1="39.50" y1="371.40" x2="39.50" y2="373.70" stroke="#000" stroke-width="1.25" />
<text x="39.50" y="379.40" font-size="5.7" text-anchor="middle" font-weight="bold" >0</text>
<line x1="61.70" y1="371.40" x2="61.70" y2="373.70" stroke="#000" stroke-width="1.25" />
<text x="61.70" y="379.40" font-size="5.7" text-anchor="middle" font-weight="bold" >20</text>
<line x1="83.90" y1="371.40" x2="83.90" y2="373.70" stroke="#000" stroke-width="1.25" />
<text x="83.90" y="379.40" font-size="5.7" text-anchor="middle" font-weight="bold" >40</text>
<line x1="106.10" y1="371.40" x2="106.10" y2="373.70" stroke="#000" stroke-width="1.25" />
<text x="106.10" y="379.40" font-size="5.7" text-anchor="middle" font-weight="bold" >60</text>
<line x1="128.30" y1="371.40" x2="128.30" y2="373.70" stroke="#000" stroke-width="1.25" />
<text x="128.30" y="379.40" font-size="5.7" text-anchor="middle" font-weight="bold" >80</text>
<text transform="translate(28.5,338.2) rotate(-90)" font-size="6.6" text-anchor="middle" font-weight="bold">% MDSC</text>
<text x="84.10" y="391.50" font-size="6.4" text-anchor="middle" font-weight="bold" textLength="66.5" lengthAdjust="spacingAndGlyphs">% CD7<tspan font-size="4.2" dy="-2.8">+</tspan><tspan dy="2.8"> Lymphocytes</tspan></text>
<text x="83.80" y="400.60" font-size="6.6" text-anchor="middle" font-weight="bold" ><tspan font-style="italic">r</tspan> = -0.3383</text>
<text x="84.40" y="409.20" font-size="6.4" text-anchor="middle" font-weight="bold" ><tspan font-style="italic">P</tspan> = NS</text>
<line x1="39.60" y1="351.40" x2="117.40" y2="362.40" stroke="#000" stroke-width="1.2" />
<circle cx="63.4" cy="314.0" r="1.25"/>
<circle cx="87.0" cy="313.8" r="1.25"/>
<circle cx="40.0" cy="337.0" r="1.25"/>
<circle cx="47.0" cy="336.4" r="1.25"/>
<circle cx="94.0" cy="339.4" r="1.25"/>
<circle cx="70.0" cy="346.0" r="1.25"/>
<circle cx="82.4" cy="349.2" r="1.25"/>
<circle cx="41.0" cy="353.4" r="1.25"/>
<circle cx="57.0" cy="354.0" r="1.25"/>
<circle cx="88.4" cy="360.4" r="1.25"/>
<circle cx="45.0" cy="362.0" r="1.25"/>
<circle cx="60.4" cy="364.4" r="1.25"/>
<circle cx="73.0" cy="363.6" r="1.25"/>
<circle cx="49.0" cy="366.0" r="1.25"/>
<circle cx="47.0" cy="366.6" r="1.25"/>
<circle cx="56.6" cy="366.0" r="1.25"/>
<circle cx="105.0" cy="365.4" r="1.25"/>
<circle cx="69.6" cy="367.0" r="1.25"/>
<circle cx="72.0" cy="368.6" r="1.25"/>
<circle cx="71.0" cy="370.0" r="1.25"/>
<circle cx="101.0" cy="368.6" r="1.25"/>
<circle cx="86.6" cy="370.4" r="1.25"/>
<circle cx="95.4" cy="370.6" r="1.25"/>
<circle cx="117.4" cy="370.4" r="1.25"/>
<line x1="151.80" y1="307.00" x2="151.80" y2="372.00" stroke="#000" stroke-width="1.25" />
<line x1="149.50" y1="307.50" x2="151.80" y2="307.50" stroke="#000" stroke-width="1.25" />
<text x="148.90" y="309.55" font-size="5.7" text-anchor="end" font-weight="bold" >25</text>
<line x1="149.50" y1="320.30" x2="151.80" y2="320.30" stroke="#000" stroke-width="1.25" />
<text x="148.90" y="322.35" font-size="5.7" text-anchor="end" font-weight="bold" >20</text>
<line x1="149.50" y1="333.10" x2="151.80" y2="333.10" stroke="#000" stroke-width="1.25" />
<text x="148.90" y="335.15" font-size="5.7" text-anchor="end" font-weight="bold" >15</text>
<line x1="149.50" y1="345.90" x2="151.80" y2="345.90" stroke="#000" stroke-width="1.25" />
<text x="148.90" y="347.95" font-size="5.7" text-anchor="end" font-weight="bold" >10</text>
<line x1="149.50" y1="358.70" x2="151.80" y2="358.70" stroke="#000" stroke-width="1.25" />
<text x="148.90" y="360.75" font-size="5.7" text-anchor="end" font-weight="bold" >5</text>
<line x1="149.50" y1="371.50" x2="151.80" y2="371.50" stroke="#000" stroke-width="1.25" />
<text x="148.90" y="373.55" font-size="5.7" text-anchor="end" font-weight="bold" >0</text>
<line x1="151.30" y1="371.50" x2="240.64" y2="371.50" stroke="#000" stroke-width="1.25" />
<line x1="151.80" y1="371.50" x2="151.80" y2="373.80" stroke="#000" stroke-width="1.25" />
<text x="151.80" y="380.10" font-size="5.7" text-anchor="middle" font-weight="bold" >0</text>
<line x1="164.42" y1="371.50" x2="164.42" y2="373.80" stroke="#000" stroke-width="1.25" />
<text x="164.42" y="380.10" font-size="5.7" text-anchor="middle" font-weight="bold" >10</text>
<line x1="177.04" y1="371.50" x2="177.04" y2="373.80" stroke="#000" stroke-width="1.25" />
<text x="177.04" y="380.10" font-size="5.7" text-anchor="middle" font-weight="bold" >20</text>
<line x1="189.66" y1="371.50" x2="189.66" y2="373.80" stroke="#000" stroke-width="1.25" />
<text x="189.66" y="380.10" font-size="5.7" text-anchor="middle" font-weight="bold" >30</text>
<line x1="202.28" y1="371.50" x2="202.28" y2="373.80" stroke="#000" stroke-width="1.25" />
<text x="202.28" y="380.10" font-size="5.7" text-anchor="middle" font-weight="bold" >40</text>
<line x1="214.90" y1="371.50" x2="214.90" y2="373.80" stroke="#000" stroke-width="1.25" />
<text x="214.90" y="380.10" font-size="5.7" text-anchor="middle" font-weight="bold" >50</text>
<line x1="227.52" y1="371.50" x2="227.52" y2="373.80" stroke="#000" stroke-width="1.25" />
<text x="227.52" y="380.10" font-size="5.7" text-anchor="middle" font-weight="bold" >60</text>
<line x1="240.14" y1="371.50" x2="240.14" y2="373.80" stroke="#000" stroke-width="1.25" />
<text x="240.14" y="380.10" font-size="5.7" text-anchor="middle" font-weight="bold" >70</text>
<text transform="translate(141.7,338.2) rotate(-90)" font-size="6.6" text-anchor="middle" font-weight="bold">% MDSC</text>
<text x="196.40" y="391.00" font-size="6.3" text-anchor="middle" font-weight="bold" textLength="27" lengthAdjust="spacingAndGlyphs">% T cells</text>
<text x="196.00" y="400.60" font-size="6.6" text-anchor="middle" font-weight="bold" ><tspan font-style="italic">r</tspan> = -0.2757</text>
<text x="196.60" y="409.00" font-size="6.4" text-anchor="middle" font-weight="bold" ><tspan font-style="italic">P</tspan> = NS</text>
<line x1="152.00" y1="353.60" x2="229.40" y2="360.40" stroke="#000" stroke-width="1.2" />
<circle cx="177.6" cy="314.4" r="1.25"/>
<circle cx="203.0" cy="314.0" r="1.25"/>
<circle cx="152.4" cy="337.4" r="1.25"/>
<circle cx="158.0" cy="336.6" r="1.25"/>
<circle cx="209.0" cy="339.8" r="1.25"/>
<circle cx="182.4" cy="346.4" r="1.25"/>
<circle cx="192.6" cy="349.5" r="1.25"/>
<circle cx="153.0" cy="353.6" r="1.25"/>
<circle cx="169.0" cy="354.0" r="1.25"/>
<circle cx="203.0" cy="360.6" r="1.25"/>
<circle cx="157.0" cy="362.6" r="1.25"/>
<circle cx="186.6" cy="364.0" r="1.25"/>
<circle cx="171.4" cy="364.6" r="1.25"/>
<circle cx="160.4" cy="366.0" r="1.25"/>
<circle cx="164.6" cy="366.0" r="1.25"/>
<circle cx="156.0" cy="367.0" r="1.25"/>
<circle cx="221.0" cy="365.6" r="1.25"/>
<circle cx="180.6" cy="367.4" r="1.25"/>
<circle cx="174.6" cy="369.0" r="1.25"/>
<circle cx="208.4" cy="369.0" r="1.25"/>
<circle cx="183.6" cy="370.6" r="1.25"/>
<circle cx="198.6" cy="370.6" r="1.25"/>
<circle cx="207.0" cy="370.8" r="1.25"/>
<circle cx="229.4" cy="370.6" r="1.25"/>
<line x1="262.90" y1="305.90" x2="262.90" y2="371.90" stroke="#000" stroke-width="1.25" />
<line x1="260.60" y1="306.40" x2="262.90" y2="306.40" stroke="#000" stroke-width="1.25" />
<text x="260.00" y="308.45" font-size="5.7" text-anchor="end" font-weight="bold" >25</text>
<line x1="260.60" y1="319.40" x2="262.90" y2="319.40" stroke="#000" stroke-width="1.25" />
<text x="260.00" y="321.45" font-size="5.7" text-anchor="end" font-weight="bold" >20</text>
<line x1="260.60" y1="332.40" x2="262.90" y2="332.40" stroke="#000" stroke-width="1.25" />
<text x="260.00" y="334.45" font-size="5.7" text-anchor="end" font-weight="bold" >15</text>
<line x1="260.60" y1="345.40" x2="262.90" y2="345.40" stroke="#000" stroke-width="1.25" />
<text x="260.00" y="347.45" font-size="5.7" text-anchor="end" font-weight="bold" >10</text>
<line x1="260.60" y1="358.40" x2="262.90" y2="358.40" stroke="#000" stroke-width="1.25" />
<text x="260.00" y="360.45" font-size="5.7" text-anchor="end" font-weight="bold" >5</text>
<line x1="260.60" y1="371.40" x2="262.90" y2="371.40" stroke="#000" stroke-width="1.25" />
<text x="260.00" y="373.45" font-size="5.7" text-anchor="end" font-weight="bold" >0</text>
<line x1="262.40" y1="371.40" x2="351.90" y2="371.40" stroke="#000" stroke-width="1.25" />
<line x1="262.90" y1="371.40" x2="262.90" y2="373.70" stroke="#000" stroke-width="1.25" />
<text x="262.90" y="380.10" font-size="5.7" text-anchor="middle" font-weight="bold" >0</text>
<line x1="280.60" y1="371.40" x2="280.60" y2="373.70" stroke="#000" stroke-width="1.25" />
<text x="280.60" y="380.10" font-size="5.7" text-anchor="middle" font-weight="bold" >1</text>
<line x1="298.30" y1="371.40" x2="298.30" y2="373.70" stroke="#000" stroke-width="1.25" />
<text x="298.30" y="380.10" font-size="5.7" text-anchor="middle" font-weight="bold" >2</text>
<line x1="316.00" y1="371.40" x2="316.00" y2="373.70" stroke="#000" stroke-width="1.25" />
<text x="316.00" y="380.10" font-size="5.7" text-anchor="middle" font-weight="bold" >3</text>
<line x1="333.70" y1="371.40" x2="333.70" y2="373.70" stroke="#000" stroke-width="1.25" />
<text x="333.70" y="380.10" font-size="5.7" text-anchor="middle" font-weight="bold" >4</text>
<line x1="351.40" y1="371.40" x2="351.40" y2="373.70" stroke="#000" stroke-width="1.25" />
<text x="351.40" y="380.10" font-size="5.7" text-anchor="middle" font-weight="bold" >5</text>
<text transform="translate(249.3,337.6) rotate(-90)" font-size="6.6" text-anchor="middle" font-weight="bold">% MDSC</text>
<text x="306.90" y="391.00" font-size="6.3" text-anchor="middle" font-weight="bold" textLength="38" lengthAdjust="spacingAndGlyphs">% NKT Cells</text>
<text x="308.20" y="400.60" font-size="6.6" text-anchor="middle" font-weight="bold" ><tspan font-style="italic">r</tspan> = -0.3843</text>
<text x="309.00" y="409.20" font-size="6.4" text-anchor="middle" font-weight="bold" ><tspan font-style="italic">P</tspan> = NS</text>
<line x1="262.90" y1="353.00" x2="343.00" y2="370.60" stroke="#000" stroke-width="1.2" />
<circle cx="263.6" cy="313.8" r="1.25"/>
<circle cx="290.0" cy="313.2" r="1.25"/>
<circle cx="263.0" cy="337.2" r="1.25"/>
<circle cx="272.6" cy="336.2" r="1.25"/>
<circle cx="268.6" cy="339.2" r="1.25"/>
<circle cx="269.0" cy="346.3" r="1.25"/>
<circle cx="281.4" cy="349.6" r="1.25"/>
<circle cx="264.0" cy="353.8" r="1.25"/>
<circle cx="274.0" cy="360.9" r="1.25"/>
<circle cx="274.6" cy="362.7" r="1.25"/>
<circle cx="274.0" cy="365.4" r="1.25"/>
<circle cx="268.6" cy="364.3" r="1.25"/>
<circle cx="267.3" cy="365.6" r="1.25"/>
<circle cx="266.0" cy="367.0" r="1.25"/>
<circle cx="283.0" cy="367.8" r="1.25"/>
<circle cx="298.0" cy="369.2" r="1.25"/>
<circle cx="343.0" cy="369.6" r="1.25"/>
<circle cx="271.6" cy="370.6" r="1.25"/>
<circle cx="273.6" cy="370.6" r="1.25"/>
<circle cx="277.6" cy="370.8" r="1.25"/>
<circle cx="283.6" cy="371.0" r="1.25"/>
<line x1="376.80" y1="305.20" x2="376.80" y2="371.20" stroke="#000" stroke-width="1.25" />
<line x1="374.50" y1="305.70" x2="376.80" y2="305.70" stroke="#000" stroke-width="1.25" />
<text x="373.90" y="307.75" font-size="5.7" text-anchor="end" font-weight="bold" >25</text>
<line x1="374.50" y1="318.70" x2="376.80" y2="318.70" stroke="#000" stroke-width="1.25" />
<text x="373.90" y="320.75" font-size="5.7" text-anchor="end" font-weight="bold" >20</text>
<line x1="374.50" y1="331.70" x2="376.80" y2="331.70" stroke="#000" stroke-width="1.25" />
<text x="373.90" y="333.75" font-size="5.7" text-anchor="end" font-weight="bold" >15</text>
<line x1="374.50" y1="344.70" x2="376.80" y2="344.70" stroke="#000" stroke-width="1.25" />
<text x="373.90" y="346.75" font-size="5.7" text-anchor="end" font-weight="bold" >10</text>
<line x1="374.50" y1="357.70" x2="376.80" y2="357.70" stroke="#000" stroke-width="1.25" />
<text x="373.90" y="359.75" font-size="5.7" text-anchor="end" font-weight="bold" >5</text>
<line x1="374.50" y1="370.70" x2="376.80" y2="370.70" stroke="#000" stroke-width="1.25" />
<text x="373.90" y="372.75" font-size="5.7" text-anchor="end" font-weight="bold" >0</text>
<line x1="376.30" y1="370.70" x2="466.25" y2="370.70" stroke="#000" stroke-width="1.25" />
<line x1="376.80" y1="370.70" x2="376.80" y2="373.00" stroke="#000" stroke-width="1.25" />
<text x="376.80" y="378.90" font-size="5.7" text-anchor="middle" font-weight="bold" >0</text>
<line x1="406.45" y1="370.70" x2="406.45" y2="373.00" stroke="#000" stroke-width="1.25" />
<text x="406.45" y="378.90" font-size="5.7" text-anchor="middle" font-weight="bold" >2</text>
<line x1="436.10" y1="370.70" x2="436.10" y2="373.00" stroke="#000" stroke-width="1.25" />
<text x="436.10" y="378.90" font-size="5.7" text-anchor="middle" font-weight="bold" >4</text>
<line x1="465.75" y1="370.70" x2="465.75" y2="373.00" stroke="#000" stroke-width="1.25" />
<text x="465.75" y="378.90" font-size="5.7" text-anchor="middle" font-weight="bold" >6</text>
<text transform="translate(365,337.8) rotate(-90)" font-size="6.6" text-anchor="middle" font-weight="bold">% MDSC</text>
<text x="421.50" y="389.70" font-size="6.3" text-anchor="middle" font-weight="bold" textLength="33.8" lengthAdjust="spacingAndGlyphs">% NK Cells</text>
<text x="423.20" y="400.60" font-size="6.6" text-anchor="middle" font-weight="bold" ><tspan font-style="italic">r</tspan> = -0.6104</text>
<text x="423.80" y="409.00" font-size="6.4" text-anchor="middle" font-weight="bold" ><tspan font-style="italic">P</tspan> &lt; 0.01</text>
<line x1="376.80" y1="348.00" x2="446.00" y2="370.60" stroke="#000" stroke-width="1.2" />
<circle cx="378.6" cy="313.0" r="1.25"/>
<circle cx="386.6" cy="313.0" r="1.25"/>
<circle cx="377.0" cy="336.6" r="1.25"/>
<circle cx="389.4" cy="335.4" r="1.25"/>
<circle cx="381.6" cy="338.6" r="1.25"/>
<circle cx="395.4" cy="345.2" r="1.25"/>
<circle cx="413.0" cy="348.8" r="1.25"/>
<circle cx="378.0" cy="353.0" r="1.25"/>
<circle cx="381.0" cy="353.4" r="1.25"/>
<circle cx="384.0" cy="360.0" r="1.25"/>
<circle cx="385.6" cy="361.6" r="1.25"/>
<circle cx="385.0" cy="363.0" r="1.25"/>
<circle cx="381.0" cy="363.6" r="1.25"/>
<circle cx="379.6" cy="365.0" r="1.25"/>
<circle cx="389.0" cy="365.4" r="1.25"/>
<circle cx="404.4" cy="366.0" r="1.25"/>
<circle cx="403.0" cy="367.0" r="1.25"/>
<circle cx="429.0" cy="365.6" r="1.25"/>
<circle cx="430.4" cy="368.0" r="1.25"/>
<circle cx="429.6" cy="369.6" r="1.25"/>
<circle cx="426.0" cy="369.6" r="1.25"/>
<circle cx="383.0" cy="369.6" r="1.25"/>
<circle cx="453.4" cy="369.6" r="1.25"/>
<circle cx="458.5" cy="367.5" r="1.25"/>
<line x1="40.40" y1="449.50" x2="40.40" y2="461.90" stroke="#000" stroke-width="1.25" />
<line x1="40.40" y1="467.00" x2="40.40" y2="515.50" stroke="#000" stroke-width="1.25" />
<line x1="38.10" y1="450.00" x2="40.40" y2="450.00" stroke="#000" stroke-width="1.25" />
<text x="37.50" y="452.12" font-size="5.9" text-anchor="end" font-weight="bold" >55</text>
<line x1="38.10" y1="461.40" x2="40.40" y2="461.40" stroke="#000" stroke-width="1.25" />
<text x="37.50" y="463.52" font-size="5.9" text-anchor="end" font-weight="bold" >50</text>
<line x1="38.10" y1="467.50" x2="40.40" y2="467.50" stroke="#000" stroke-width="1.25" />
<text x="37.50" y="469.62" font-size="5.9" text-anchor="end" font-weight="bold" >25</text>
<line x1="38.10" y1="477.00" x2="40.40" y2="477.00" stroke="#000" stroke-width="1.25" />
<text x="37.50" y="479.12" font-size="5.9" text-anchor="end" font-weight="bold" >20</text>
<line x1="38.10" y1="486.50" x2="40.40" y2="486.50" stroke="#000" stroke-width="1.25" />
<text x="37.50" y="488.62" font-size="5.9" text-anchor="end" font-weight="bold" >15</text>
<line x1="38.10" y1="496.00" x2="40.40" y2="496.00" stroke="#000" stroke-width="1.25" />
<text x="37.50" y="498.12" font-size="5.9" text-anchor="end" font-weight="bold" >10</text>
<line x1="38.10" y1="505.50" x2="40.40" y2="505.50" stroke="#000" stroke-width="1.25" />
<text x="37.50" y="507.62" font-size="5.9" text-anchor="end" font-weight="bold" >5</text>
<line x1="38.10" y1="515.00" x2="40.40" y2="515.00" stroke="#000" stroke-width="1.25" />
<text x="37.50" y="517.12" font-size="5.9" text-anchor="end" font-weight="bold" >0</text>
<line x1="39.90" y1="515.00" x2="138.25" y2="515.00" stroke="#000" stroke-width="1.25" />
<line x1="40.40" y1="515.00" x2="40.40" y2="517.30" stroke="#000" stroke-width="1.25" />
<text x="40.40" y="523.50" font-size="5.9" text-anchor="middle" font-weight="bold" >0</text>
<line x1="72.85" y1="515.00" x2="72.85" y2="517.30" stroke="#000" stroke-width="1.25" />
<text x="72.85" y="523.50" font-size="5.9" text-anchor="middle" font-weight="bold" >20</text>
<line x1="105.30" y1="515.00" x2="105.30" y2="517.30" stroke="#000" stroke-width="1.25" />
<text x="105.30" y="523.50" font-size="5.9" text-anchor="middle" font-weight="bold" >40</text>
<line x1="137.75" y1="515.00" x2="137.75" y2="517.30" stroke="#000" stroke-width="1.25" />
<text x="137.75" y="523.50" font-size="5.9" text-anchor="middle" font-weight="bold" >60</text>
<text transform="translate(27.4,481.6) rotate(-90)" font-size="6.8" text-anchor="middle" font-weight="bold">% MDSC</text>
<text x="88.70" y="535.20" font-size="6.9" text-anchor="middle" font-weight="bold" textLength="72" lengthAdjust="spacingAndGlyphs">% CD7<tspan font-size="4.6" dy="-3.0">+</tspan><tspan dy="3.0"> Lymphocytes</tspan></text>
<text x="87.00" y="545.10" font-size="6.6" text-anchor="middle" font-weight="bold" ><tspan font-style="italic">r</tspan> = -0.3329</text>
<text x="87.50" y="553.00" font-size="6.4" text-anchor="middle" font-weight="bold" ><tspan font-style="italic">P</tspan> &lt; 0.05</text>
<line x1="40.40" y1="488.00" x2="116.80" y2="514.90" stroke="#000" stroke-width="1.2" />
<circle cx="46.0" cy="460.4" r="1.25"/>
<circle cx="42.0" cy="472.4" r="1.25"/>
<circle cx="47.4" cy="476.4" r="1.25"/>
<circle cx="43.4" cy="477.0" r="1.25"/>
<circle cx="96.0" cy="479.0" r="1.25"/>
<circle cx="50.0" cy="490.0" r="1.25"/>
<circle cx="85.6" cy="494.0" r="1.25"/>
<circle cx="91.0" cy="495.7" r="1.25"/>
<circle cx="128.0" cy="499.6" r="1.25"/>
<circle cx="51.6" cy="501.4" r="1.25"/>
<circle cx="85.6" cy="501.0" r="1.25"/>
<circle cx="59.0" cy="503.0" r="1.25"/>
<circle cx="104.0" cy="504.0" r="1.25"/>
<circle cx="72.0" cy="506.0" r="1.25"/>
<circle cx="70.0" cy="507.6" r="1.25"/>
<circle cx="67.6" cy="509.0" r="1.25"/>
<circle cx="108.0" cy="506.0" r="1.25"/>
<circle cx="107.6" cy="508.0" r="1.25"/>
<circle cx="97.0" cy="506.6" r="1.25"/>
<circle cx="103.0" cy="507.6" r="1.25"/>
<circle cx="58.0" cy="508.6" r="1.25"/>
<circle cx="63.0" cy="508.0" r="1.25"/>
<circle cx="100.0" cy="508.6" r="1.25"/>
<circle cx="93.6" cy="510.0" r="1.25"/>
<circle cx="97.0" cy="511.0" r="1.25"/>
<circle cx="100.0" cy="511.0" r="1.25"/>
<circle cx="73.0" cy="511.0" r="1.25"/>
<circle cx="112.0" cy="511.0" r="1.25"/>
<circle cx="51.6" cy="512.0" r="1.25"/>
<circle cx="67.0" cy="512.0" r="1.25"/>
<circle cx="79.0" cy="512.6" r="1.25"/>
<circle cx="99.6" cy="513.0" r="1.25"/>
<circle cx="69.0" cy="514.0" r="1.25"/>
<circle cx="75.6" cy="514.0" r="1.25"/>
<circle cx="87.4" cy="514.0" r="1.25"/>
<circle cx="112.0" cy="514.0" r="1.25"/>
<line x1="155.40" y1="448.80" x2="155.40" y2="461.40" stroke="#000" stroke-width="1.25" />
<line x1="155.40" y1="466.40" x2="155.40" y2="515.40" stroke="#000" stroke-width="1.25" />
<line x1="153.10" y1="449.30" x2="155.40" y2="449.30" stroke="#000" stroke-width="1.25" />
<text x="152.50" y="451.42" font-size="5.9" text-anchor="end" font-weight="bold" >55</text>
<line x1="153.10" y1="460.90" x2="155.40" y2="460.90" stroke="#000" stroke-width="1.25" />
<text x="152.50" y="463.02" font-size="5.9" text-anchor="end" font-weight="bold" >50</text>
<line x1="153.10" y1="466.90" x2="155.40" y2="466.90" stroke="#000" stroke-width="1.25" />
<text x="152.50" y="469.02" font-size="5.9" text-anchor="end" font-weight="bold" >25</text>
<line x1="153.10" y1="476.50" x2="155.40" y2="476.50" stroke="#000" stroke-width="1.25" />
<text x="152.50" y="478.62" font-size="5.9" text-anchor="end" font-weight="bold" >20</text>
<line x1="153.10" y1="486.10" x2="155.40" y2="486.10" stroke="#000" stroke-width="1.25" />
<text x="152.50" y="488.22" font-size="5.9" text-anchor="end" font-weight="bold" >15</text>
<line x1="153.10" y1="495.70" x2="155.40" y2="495.70" stroke="#000" stroke-width="1.25" />
<text x="152.50" y="497.82" font-size="5.9" text-anchor="end" font-weight="bold" >10</text>
<line x1="153.10" y1="505.30" x2="155.40" y2="505.30" stroke="#000" stroke-width="1.25" />
<text x="152.50" y="507.42" font-size="5.9" text-anchor="end" font-weight="bold" >5</text>
<line x1="153.10" y1="514.90" x2="155.40" y2="514.90" stroke="#000" stroke-width="1.25" />
<text x="152.50" y="517.02" font-size="5.9" text-anchor="end" font-weight="bold" >0</text>
<line x1="154.90" y1="514.90" x2="243.60" y2="514.90" stroke="#000" stroke-width="1.25" />
<line x1="155.60" y1="514.90" x2="155.60" y2="517.20" stroke="#000" stroke-width="1.25" />
<text x="155.60" y="523.00" font-size="5.9" text-anchor="middle" font-weight="bold" >0</text>
<line x1="173.10" y1="514.90" x2="173.10" y2="517.20" stroke="#000" stroke-width="1.25" />
<text x="173.10" y="523.00" font-size="5.9" text-anchor="middle" font-weight="bold" >10</text>
<line x1="190.60" y1="514.90" x2="190.60" y2="517.20" stroke="#000" stroke-width="1.25" />
<text x="190.60" y="523.00" font-size="5.9" text-anchor="middle" font-weight="bold" >20</text>
<line x1="208.10" y1="514.90" x2="208.10" y2="517.20" stroke="#000" stroke-width="1.25" />
<text x="208.10" y="523.00" font-size="5.9" text-anchor="middle" font-weight="bold" >30</text>
<line x1="225.60" y1="514.90" x2="225.60" y2="517.20" stroke="#000" stroke-width="1.25" />
<text x="225.60" y="523.00" font-size="5.9" text-anchor="middle" font-weight="bold" >40</text>
<line x1="243.10" y1="514.90" x2="243.10" y2="517.20" stroke="#000" stroke-width="1.25" />
<text x="243.10" y="523.00" font-size="5.9" text-anchor="middle" font-weight="bold" >50</text>
<text transform="translate(142.8,481.2) rotate(-90)" font-size="6.8" text-anchor="middle" font-weight="bold">% MDSC</text>
<text x="199.10" y="533.70" font-size="6.3" text-anchor="middle" font-weight="bold" textLength="26.5" lengthAdjust="spacingAndGlyphs">% T cells</text>
<text x="200.00" y="545.10" font-size="6.6" text-anchor="middle" font-weight="bold" ><tspan font-style="italic">r</tspan> = -0.3623</text>
<text x="200.40" y="553.00" font-size="6.4" text-anchor="middle" font-weight="bold" ><tspan font-style="italic">P</tspan> &lt; 0.05</text>
<line x1="155.60" y1="489.40" x2="224.00" y2="515.00" stroke="#000" stroke-width="1.2" />
<circle cx="160.0" cy="459.6" r="1.25"/>
<circle cx="156.0" cy="472.0" r="1.25"/>
<circle cx="160.0" cy="476.0" r="1.25"/>
<circle cx="156.6" cy="476.6" r="1.25"/>
<circle cx="191.6" cy="478.6" r="1.25"/>
<circle cx="162.0" cy="489.6" r="1.25"/>
<circle cx="188.6" cy="493.8" r="1.25"/>
<circle cx="203.0" cy="495.7" r="1.25"/>
<circle cx="162.0" cy="501.4" r="1.25"/>
<circle cx="192.4" cy="501.0" r="1.25"/>
<circle cx="172.6" cy="503.0" r="1.25"/>
<circle cx="209.0" cy="504.0" r="1.25"/>
<circle cx="197.0" cy="506.0" r="1.25"/>
<circle cx="184.0" cy="506.6" r="1.25"/>
<circle cx="205.0" cy="506.0" r="1.25"/>
<circle cx="211.0" cy="507.6" r="1.25"/>
<circle cx="170.0" cy="508.6" r="1.25"/>
<circle cx="177.0" cy="508.6" r="1.25"/>
<circle cx="181.0" cy="508.0" r="1.25"/>
<circle cx="160.0" cy="509.4" r="1.25"/>
<circle cx="216.0" cy="508.6" r="1.25"/>
<circle cx="203.0" cy="509.0" r="1.25"/>
<circle cx="207.0" cy="510.0" r="1.25"/>
<circle cx="212.0" cy="510.6" r="1.25"/>
<circle cx="202.0" cy="510.6" r="1.25"/>
<circle cx="206.0" cy="511.0" r="1.25"/>
<circle cx="174.0" cy="511.0" r="1.25"/>
<circle cx="177.0" cy="512.6" r="1.25"/>
<circle cx="186.0" cy="512.6" r="1.25"/>
<circle cx="200.0" cy="513.0" r="1.25"/>
<circle cx="211.0" cy="512.6" r="1.25"/>
<circle cx="223.0" cy="511.6" r="1.25"/>
<circle cx="161.0" cy="513.6" r="1.25"/>
<circle cx="181.6" cy="514.0" r="1.25"/>
<circle cx="188.0" cy="514.0" r="1.25"/>
<circle cx="197.0" cy="514.6" r="1.25"/>
<circle cx="204.0" cy="513.0" r="1.25"/>
<circle cx="219.0" cy="514.6" r="1.25"/>
<circle cx="240.0" cy="499.0" r="1.25"/>
<line x1="265.50" y1="448.20" x2="265.50" y2="461.00" stroke="#000" stroke-width="1.25" />
<line x1="265.50" y1="466.00" x2="265.50" y2="514.80" stroke="#000" stroke-width="1.25" />
<line x1="263.20" y1="448.70" x2="265.50" y2="448.70" stroke="#000" stroke-width="1.25" />
<text x="262.60" y="450.82" font-size="5.9" text-anchor="end" font-weight="bold" >55</text>
<line x1="263.20" y1="460.50" x2="265.50" y2="460.50" stroke="#000" stroke-width="1.25" />
<text x="262.60" y="462.62" font-size="5.9" text-anchor="end" font-weight="bold" >50</text>
<line x1="263.20" y1="466.52" x2="265.50" y2="466.52" stroke="#000" stroke-width="1.25" />
<text x="262.60" y="468.65" font-size="5.9" text-anchor="end" font-weight="bold" >25</text>
<line x1="263.20" y1="476.10" x2="265.50" y2="476.10" stroke="#000" stroke-width="1.25" />
<text x="262.60" y="478.22" font-size="5.9" text-anchor="end" font-weight="bold" >20</text>
<line x1="263.20" y1="485.67" x2="265.50" y2="485.67" stroke="#000" stroke-width="1.25" />
<text x="262.60" y="487.80" font-size="5.9" text-anchor="end" font-weight="bold" >15</text>
<line x1="263.20" y1="495.25" x2="265.50" y2="495.25" stroke="#000" stroke-width="1.25" />
<text x="262.60" y="497.37" font-size="5.9" text-anchor="end" font-weight="bold" >10</text>
<line x1="263.20" y1="504.82" x2="265.50" y2="504.82" stroke="#000" stroke-width="1.25" />
<text x="262.60" y="506.95" font-size="5.9" text-anchor="end" font-weight="bold" >5</text>
<line x1="263.20" y1="514.40" x2="265.50" y2="514.40" stroke="#000" stroke-width="1.25" />
<text x="262.60" y="516.52" font-size="5.9" text-anchor="end" font-weight="bold" >0</text>
<line x1="265.00" y1="514.30" x2="354.40" y2="514.30" stroke="#000" stroke-width="1.25" />
<line x1="265.70" y1="514.30" x2="265.70" y2="516.60" stroke="#000" stroke-width="1.25" />
<text x="265.70" y="522.30" font-size="5.9" text-anchor="middle" font-weight="bold" >0</text>
<line x1="295.10" y1="514.30" x2="295.10" y2="516.60" stroke="#000" stroke-width="1.25" />
<text x="295.10" y="522.30" font-size="5.9" text-anchor="middle" font-weight="bold" >2</text>
<line x1="324.50" y1="514.30" x2="324.50" y2="516.60" stroke="#000" stroke-width="1.25" />
<text x="324.50" y="522.30" font-size="5.9" text-anchor="middle" font-weight="bold" >4</text>
<line x1="353.90" y1="514.30" x2="353.90" y2="516.60" stroke="#000" stroke-width="1.25" />
<text x="353.90" y="522.30" font-size="5.9" text-anchor="middle" font-weight="bold" >6</text>
<text transform="translate(252.6,480.6) rotate(-90)" font-size="6.8" text-anchor="middle" font-weight="bold">% MDSC</text>
<text x="310.00" y="534.20" font-size="6.0" text-anchor="middle" font-weight="bold" textLength="33.2" lengthAdjust="spacingAndGlyphs">% NKT Cells</text>
<text x="311.00" y="544.60" font-size="6.6" text-anchor="middle" font-weight="bold" ><tspan font-style="italic">r</tspan> = -0.3225</text>
<text x="312.00" y="553.00" font-size="6.4" text-anchor="middle" font-weight="bold" ><tspan font-style="italic">P</tspan> &lt; 0.05</text>
<line x1="265.70" y1="499.50" x2="344.00" y2="513.00" stroke="#000" stroke-width="1.2" />
<circle cx="268.6" cy="459.0" r="1.25"/>
<circle cx="267.0" cy="471.4" r="1.25"/>
<circle cx="271.6" cy="476.0" r="1.25"/>
<circle cx="265.6" cy="475.6" r="1.25"/>
<circle cx="283.0" cy="478.0" r="1.25"/>
<circle cx="343.4" cy="493.0" r="1.25"/>
<circle cx="268.0" cy="489.2" r="1.25"/>
<circle cx="276.0" cy="495.3" r="1.25"/>
<circle cx="271.8" cy="499.0" r="1.25"/>
<circle cx="267.5" cy="500.5" r="1.25"/>
<circle cx="266.5" cy="502.0" r="1.25"/>
<circle cx="292.5" cy="500.5" r="1.25"/>
<circle cx="272.5" cy="503.5" r="1.25"/>
<circle cx="272.5" cy="505.5" r="1.25"/>
<circle cx="272.0" cy="507.5" r="1.25"/>
<circle cx="269.5" cy="505.5" r="1.25"/>
<circle cx="267.2" cy="507.5" r="1.25"/>
<circle cx="267.5" cy="509.0" r="1.25"/>
<circle cx="269.0" cy="509.0" r="1.25"/>
<circle cx="297.5" cy="505.8" r="1.25"/>
<circle cx="281.5" cy="507.2" r="1.25"/>
<circle cx="282.5" cy="508.5" r="1.25"/>
<circle cx="281.5" cy="509.8" r="1.25"/>
<circle cx="277.0" cy="510.5" r="1.25"/>
<circle cx="276.0" cy="512.0" r="1.25"/>
<circle cx="273.0" cy="510.5" r="1.25"/>
<circle cx="270.0" cy="511.0" r="1.25"/>
<circle cx="269.5" cy="513.0" r="1.25"/>
<circle cx="294.0" cy="512.0" r="1.25"/>
<circle cx="303.5" cy="511.0" r="1.25"/>
<circle cx="311.0" cy="510.5" r="1.25"/>
<circle cx="281.5" cy="513.0" r="1.25"/>
<circle cx="297.5" cy="513.3" r="1.25"/>
<circle cx="274.5" cy="513.5" r="1.25"/>
<circle cx="278.0" cy="513.3" r="1.25"/>
<circle cx="266.5" cy="511.5" r="1.25"/>
<line x1="380.40" y1="449.50" x2="380.40" y2="461.50" stroke="#000" stroke-width="1.25" />
<line x1="380.40" y1="466.20" x2="380.40" y2="514.50" stroke="#000" stroke-width="1.25" />
<line x1="378.10" y1="450.00" x2="380.40" y2="450.00" stroke="#000" stroke-width="1.25" />
<text x="377.50" y="452.12" font-size="5.9" text-anchor="end" font-weight="bold" >55</text>
<line x1="378.10" y1="461.00" x2="380.40" y2="461.00" stroke="#000" stroke-width="1.25" />
<text x="377.50" y="463.12" font-size="5.9" text-anchor="end" font-weight="bold" >50</text>
<line x1="378.10" y1="466.73" x2="380.40" y2="466.73" stroke="#000" stroke-width="1.25" />
<text x="377.50" y="468.85" font-size="5.9" text-anchor="end" font-weight="bold" >25</text>
<line x1="378.10" y1="476.20" x2="380.40" y2="476.20" stroke="#000" stroke-width="1.25" />
<text x="377.50" y="478.32" font-size="5.9" text-anchor="end" font-weight="bold" >20</text>
<line x1="378.10" y1="485.68" x2="380.40" y2="485.68" stroke="#000" stroke-width="1.25" />
<text x="377.50" y="487.80" font-size="5.9" text-anchor="end" font-weight="bold" >15</text>
<line x1="378.10" y1="495.15" x2="380.40" y2="495.15" stroke="#000" stroke-width="1.25" />
<text x="377.50" y="497.27" font-size="5.9" text-anchor="end" font-weight="bold" >10</text>
<line x1="378.10" y1="504.62" x2="380.40" y2="504.62" stroke="#000" stroke-width="1.25" />
<text x="377.50" y="506.75" font-size="5.9" text-anchor="end" font-weight="bold" >5</text>
<line x1="378.10" y1="514.10" x2="380.40" y2="514.10" stroke="#000" stroke-width="1.25" />
<text x="377.50" y="516.22" font-size="5.9" text-anchor="end" font-weight="bold" >0</text>
<line x1="379.90" y1="514.00" x2="468.35" y2="514.00" stroke="#000" stroke-width="1.25" />
<line x1="380.40" y1="514.00" x2="380.40" y2="516.30" stroke="#000" stroke-width="1.25" />
<text x="380.40" y="522.30" font-size="5.9" text-anchor="middle" font-weight="bold" >0</text>
<line x1="409.55" y1="514.00" x2="409.55" y2="516.30" stroke="#000" stroke-width="1.25" />
<text x="409.55" y="522.30" font-size="5.9" text-anchor="middle" font-weight="bold" >5</text>
<line x1="438.70" y1="514.00" x2="438.70" y2="516.30" stroke="#000" stroke-width="1.25" />
<text x="438.70" y="522.30" font-size="5.9" text-anchor="middle" font-weight="bold" >10</text>
<line x1="467.85" y1="514.00" x2="467.85" y2="516.30" stroke="#000" stroke-width="1.25" />
<text x="467.85" y="522.30" font-size="5.9" text-anchor="middle" font-weight="bold" >15</text>
<text transform="translate(368,481) rotate(-90)" font-size="6.6" text-anchor="middle" font-weight="bold">%MDSC</text>
<text x="424.10" y="533.00" font-size="6.3" text-anchor="middle" font-weight="bold" textLength="31.5" lengthAdjust="spacingAndGlyphs">%NK Cells</text>
<text x="426.50" y="544.60" font-size="6.6" text-anchor="middle" font-weight="bold" ><tspan font-style="italic">r</tspan> = -0.1537</text>
<text x="427.00" y="553.00" font-size="6.4" text-anchor="middle" font-weight="bold" ><tspan font-style="italic">P</tspan> = NS</text>
<line x1="380.40" y1="500.20" x2="450.00" y2="506.00" stroke="#000" stroke-width="1.2" />
<circle cx="382.0" cy="460.5" r="1.25"/>
<circle cx="380.6" cy="471.9" r="1.25"/>
<circle cx="384.0" cy="476.8" r="1.25"/>
<circle cx="380.6" cy="476.4" r="1.25"/>
<circle cx="438.6" cy="478.6" r="1.25"/>
<circle cx="450.0" cy="505.6" r="1.25"/>
<circle cx="389.5" cy="489.2" r="1.25"/>
<circle cx="389.0" cy="493.2" r="1.25"/>
<circle cx="388.0" cy="494.2" r="1.25"/>
<circle cx="387.0" cy="495.5" r="1.25"/>
<circle cx="391.8" cy="499.2" r="1.25"/>
<circle cx="391.5" cy="500.5" r="1.25"/>
<circle cx="387.5" cy="501.0" r="1.25"/>
<circle cx="386.0" cy="502.0" r="1.25"/>
<circle cx="402.5" cy="502.8" r="1.25"/>
<circle cx="383.0" cy="505.8" r="1.25"/>
<circle cx="384.0" cy="507.0" r="1.25"/>
<circle cx="385.5" cy="507.8" r="1.25"/>
<circle cx="383.5" cy="508.5" r="1.25"/>
<circle cx="385.0" cy="509.5" r="1.25"/>
<circle cx="386.0" cy="508.5" r="1.25"/>
<circle cx="395.0" cy="505.3" r="1.25"/>
<circle cx="397.8" cy="506.0" r="1.25"/>
<circle cx="395.5" cy="507.5" r="1.25"/>
<circle cx="396.5" cy="508.8" r="1.25"/>
<circle cx="397.5" cy="510.0" r="1.25"/>
<circle cx="392.0" cy="510.2" r="1.25"/>
<circle cx="391.0" cy="511.5" r="1.25"/>
<circle cx="393.0" cy="512.0" r="1.25"/>
<circle cx="390.0" cy="513.0" r="1.25"/>
<circle cx="383.5" cy="511.0" r="1.25"/>
<circle cx="384.5" cy="512.5" r="1.25"/>
<circle cx="383.0" cy="513.0" r="1.25"/>
<circle cx="404.0" cy="510.2" r="1.25"/>
<circle cx="404.0" cy="513.3" r="1.25"/>
<circle cx="397.5" cy="513.3" r="1.25"/>
<circle cx="381.5" cy="504.5" r="1.25"/>
<circle cx="382.0" cy="510.0" r="1.25"/>
</svg></body></html>
